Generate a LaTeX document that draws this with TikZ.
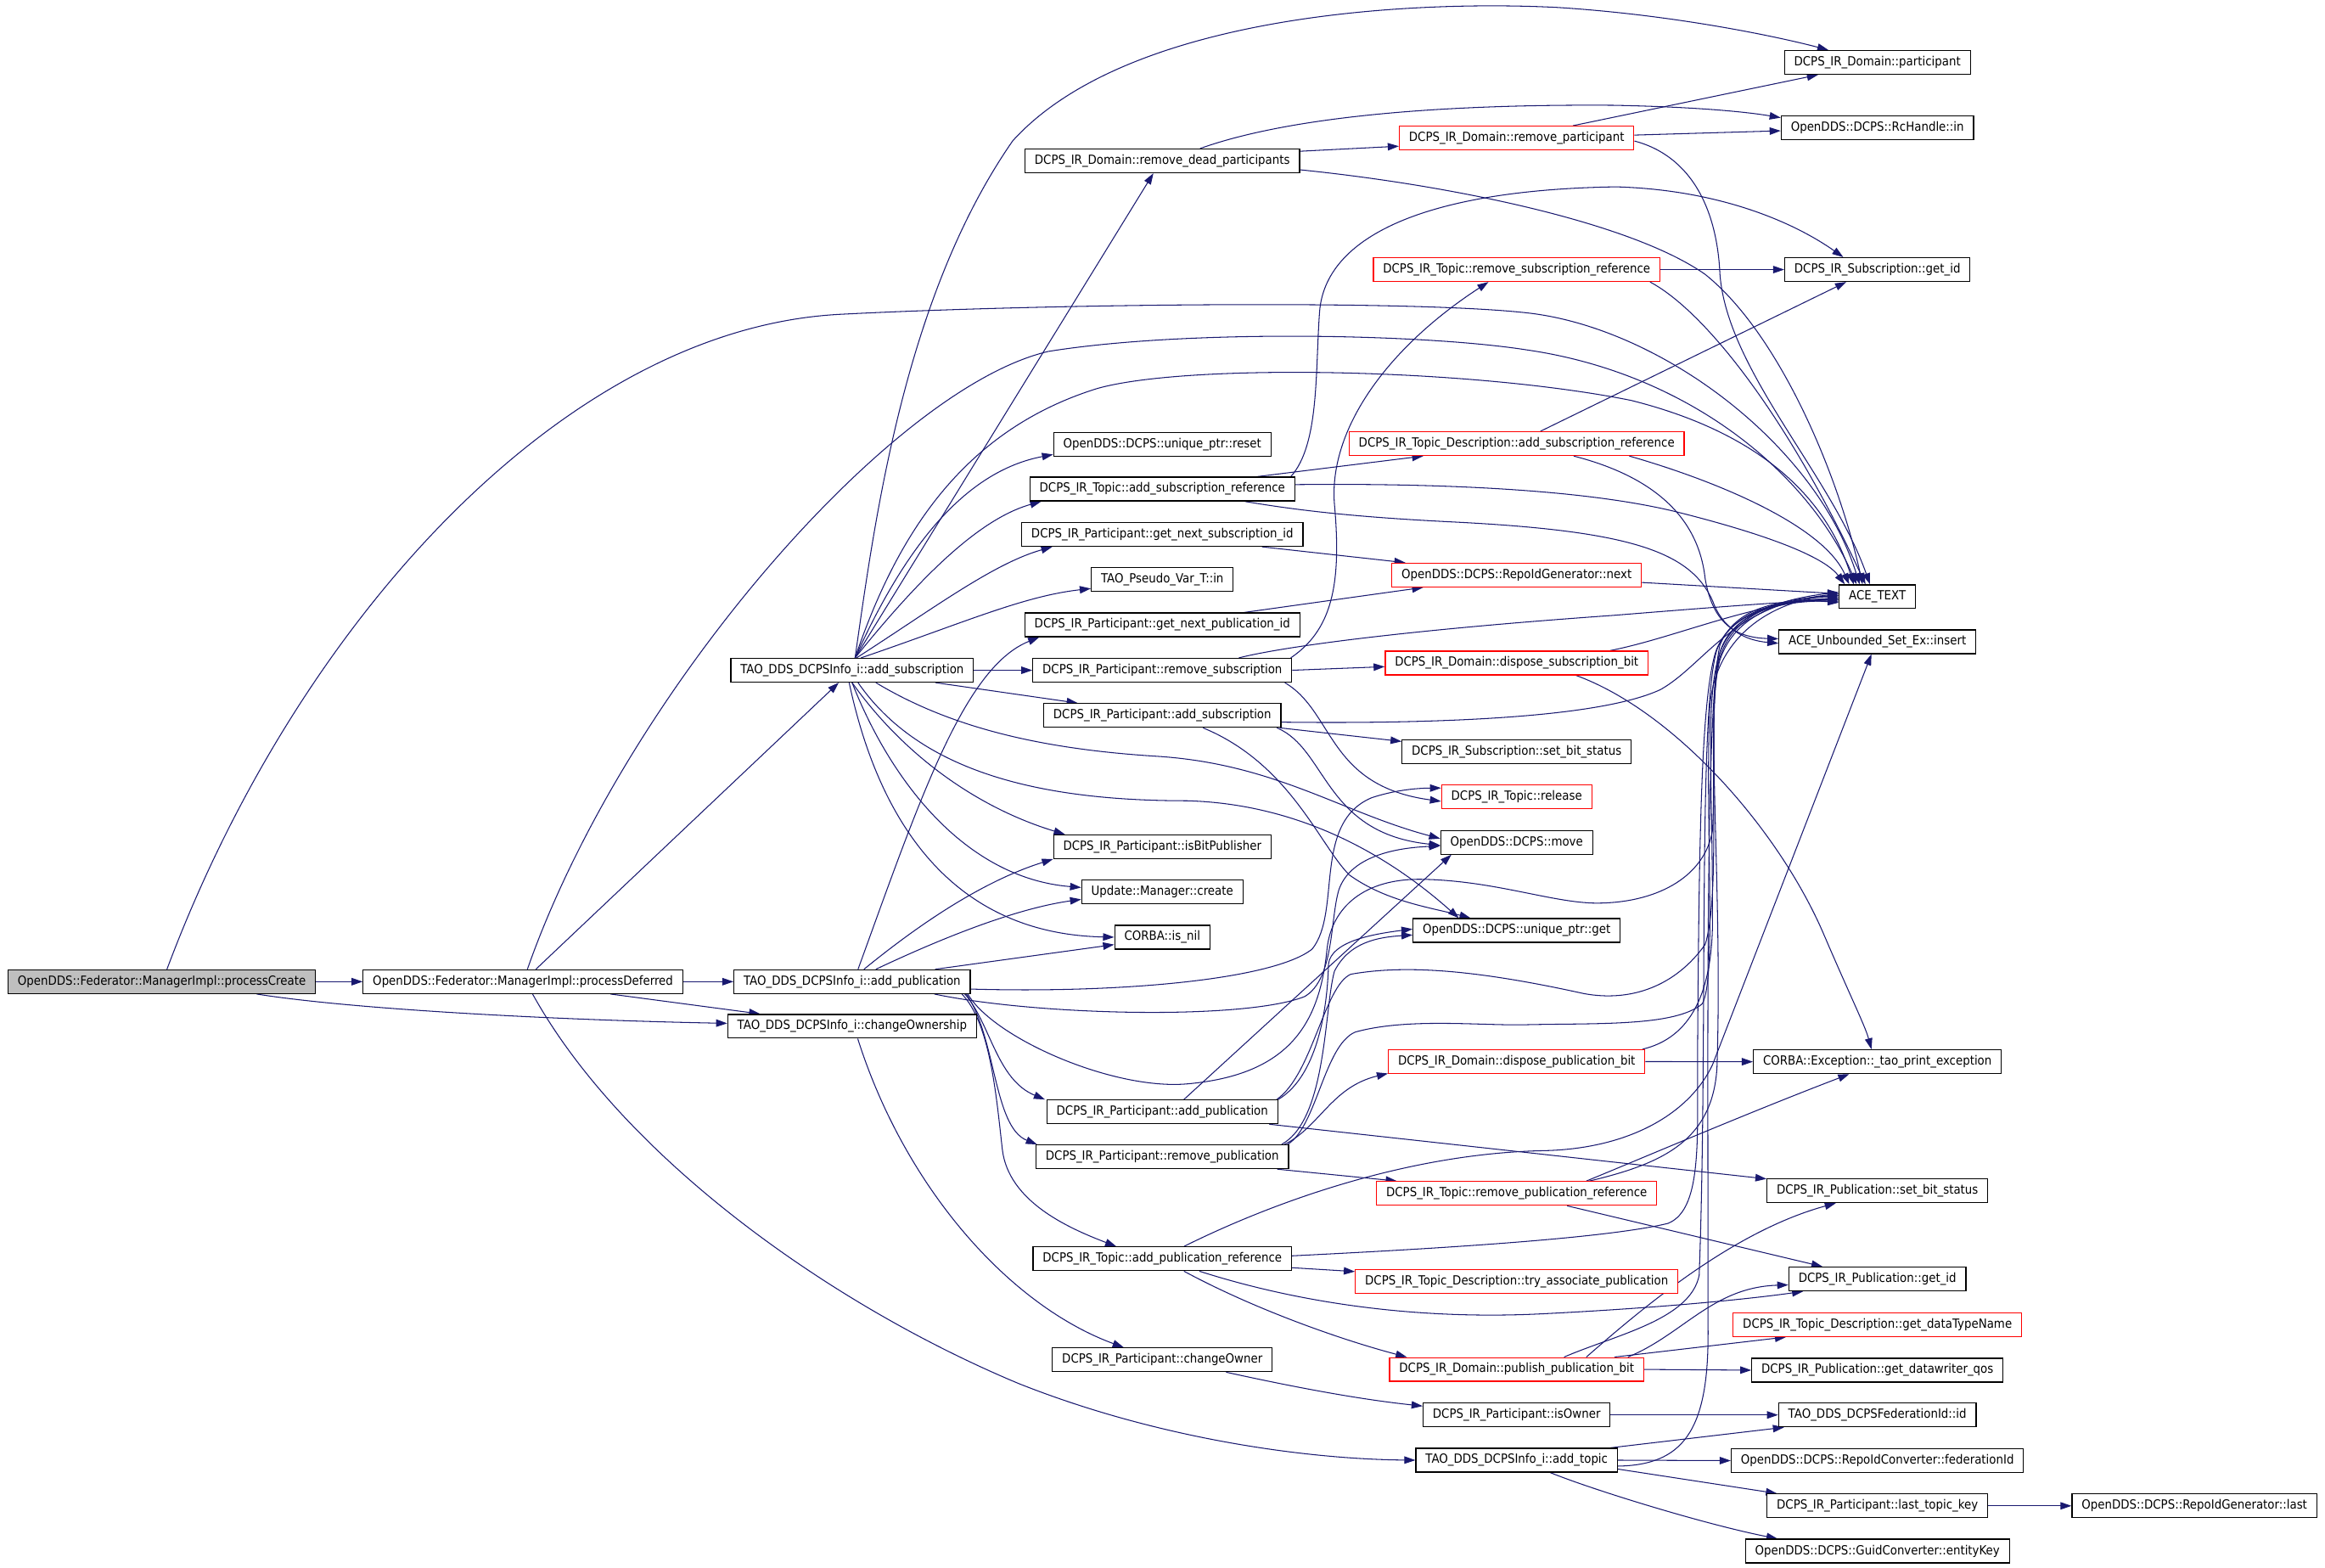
\documentclass[tikz,border=0pt]{standalone}
\usepackage{fontspec}
\setmainfont{DejaVu Sans}[FakeStretch=0.9]
\usetikzlibrary{arrows.meta}
\definecolor{edgeblue}{HTML}{191970}
\definecolor{nodered}{HTML}{FF0000}
\definecolor{pcgray}{HTML}{BFBFBF}
\pgfdeclarelayer{bg}
\pgfsetlayers{bg,main}
\newcommand\nodefont{\fontsize{8.5pt}{10pt}\selectfont}
\tikzset{
 fnbox/.style={draw=black, line width=0.7pt, fill=white, inner xsep=6.5pt, inner ysep=0pt, minimum height=16pt, font=\nodefont},
 fnred/.style={fnbox, draw=nodered},
 fnroot/.style={fnbox, fill=pcgray},
 call/.style={draw=edgeblue, line width=0.6pt, -{Triangle[length=7.5pt,width=5pt]}},
}
\begin{document}
\begin{tikzpicture}[x=1pt,y=-1pt]
\useasboundingbox (0,0) rectangle (1568.1,1057.4);
% column 0-2
\node[fnroot] (pc) at (109.1,662) {OpenDDS::Federator::ManagerImpl::processCreate};
\node[fnbox] (pd) at (352.7,662) {OpenDDS::Federator::ManagerImpl::processDeferred};
\node[fnbox] (ap) at (574.7,662) {TAO\_DDS\_DCPSInfo\_i::add\_publication};
\node[fnbox] (co) at (574.7,692.1) {TAO\_DDS\_DCPSInfo\_i::changeOwnership};
\node[fnbox] (as) at (574.7,452) {TAO\_DDS\_DCPSInfo\_i::add\_subscription};
% column 3
\node[fnbox] (rdp) at (783.9,108.5) {DCPS\_IR\_Domain::remove\_dead\_participants};
\node[fnbox] (reset) at (783.9,299.5) {OpenDDS::DCPS::unique\_ptr::reset};
\node[fnbox] (tasr) at (783.9,329.8) {DCPS\_IR\_Topic::add\_subscription\_reference};
\node[fnbox] (gnsi) at (783.9,360.4) {DCPS\_IR\_Participant::get\_next\_subscription\_id};
\node[fnbox] (tpv) at (783.9,390.9) {TAO\_Pseudo\_Var\_T::in};
\node[fnbox] (gnpi) at (783.9,421.4) {DCPS\_IR\_Participant::get\_next\_publication\_id};
\node[fnbox] (rs) at (783.9,452) {DCPS\_IR\_Participant::remove\_subscription};
\node[fnbox] (pas) at (783.9,482.5) {DCPS\_IR\_Participant::add\_subscription};
\node[fnbox] (ibp) at (783.9,571) {DCPS\_IR\_Participant::isBitPublisher};
\node[fnbox] (cr) at (783.9,601.5) {Update::Manager::create};
\node[fnbox] (nil) at (783.9,632) {CORBA::is\_nil};
\node[fnbox] (pap) at (783.9,749.8) {DCPS\_IR\_Participant::add\_publication};
\node[fnbox] (rpub) at (783.9,780.1) {DCPS\_IR\_Participant::remove\_publication};
\node[fnbox] (tapr) at (783.9,848.9) {DCPS\_IR\_Topic::add\_publication\_reference};
\node[fnbox] (cho) at (783.9,917) {DCPS\_IR\_Participant::changeOwner};
% column 4
\node[fnred] (rp) at (1022.9,93.1) {DCPS\_IR\_Domain::remove\_participant};
\node[fnred] (trsr) at (1022.9,181.8) {DCPS\_IR\_Topic::remove\_subscription\_reference};
\node[fnred] (tdasr) at (1022.9,299.2) {DCPS\_IR\_Topic\_Description::add\_subscription\_reference};
\node[fnred] (rign) at (1022.9,387.8) {OpenDDS::DCPS::RepoIdGenerator::next};
\node[fnred] (dsb) at (1022.9,447.1) {DCPS\_IR\_Domain::dispose\_subscription\_bit};
\node[fnbox] (ssbs) at (1022.9,507) {DCPS\_IR\_Subscription::set\_bit\_status};
\node[fnred] (rel) at (1022.9,537.4) {DCPS\_IR\_Topic::release};
\node[fnbox] (mv) at (1022.9,568) {OpenDDS::DCPS::move};
\node[fnbox] (upg) at (1022.9,627.5) {OpenDDS::DCPS::unique\_ptr::get};
\node[fnred] (dpb) at (1022.9,715.9) {DCPS\_IR\_Domain::dispose\_publication\_bit};
\node[fnred] (trpr) at (1022.9,804.8) {DCPS\_IR\_Topic::remove\_publication\_reference};
\node[fnred] (tdtry) at (1022.9,864) {DCPS\_IR\_Topic\_Description::try\_associate\_publication};
\node[fnred] (ppb) at (1022.9,923.5) {DCPS\_IR\_Domain::publish\_publication\_bit};
\node[fnbox] (io) at (1022.9,954.2) {DCPS\_IR\_Participant::isOwner};
\node[fnbox] (at) at (1022.9,984.7) {TAO\_DDS\_DCPSInfo\_i::add\_topic};
% column 5-6
\node[fnbox] (part) at (1266.2,42.1) {DCPS\_IR\_Domain::participant};
\node[fnbox] (rch) at (1266.2,86.2) {OpenDDS::DCPS::RcHandle::in};
\node[fnbox] (sgid) at (1266.2,181.8) {DCPS\_IR\_Subscription::get\_id};
\node[fnbox] (ace) at (1266.2,402.4) {ACE\_TEXT};
\node[fnbox] (ins) at (1266.2,432.8) {ACE\_Unbounded\_Set\_Ex::insert};
\node[fnbox] (tao) at (1266.2,716) {CORBA::Exception::\_tao\_print\_exception};
\node[fnbox] (psbs) at (1266.2,803) {DCPS\_IR\_Publication::set\_bit\_status};
\node[fnbox] (pgid) at (1266.2,862.5) {DCPS\_IR\_Publication::get\_id};
\node[fnred] (dtn) at (1266.2,893.3) {DCPS\_IR\_Topic\_Description::get\_dataTypeName};
\node[fnbox] (dwq) at (1266.2,924) {DCPS\_IR\_Publication::get\_datawriter\_qos};
\node[fnbox] (fid) at (1266.2,954.2) {TAO\_DDS\_DCPSFederationId::id};
\node[fnbox] (fedc) at (1266.2,985) {OpenDDS::DCPS::RepoIdConverter::federationId};
\node[fnbox] (ltk) at (1266.2,1015.5) {DCPS\_IR\_Participant::last\_topic\_key};
\node[fnbox] (ek) at (1266.2,1046) {OpenDDS::DCPS::GuidConverter::entityKey};
\node[fnbox] (last) at (1480,1015.5) {OpenDDS::DCPS::RepoIdGenerator::last};

\begin{pgfonlayer}{bg}
\fill[white] (0,0) rectangle (1568.1,1057.4);
% processCreate
\draw[call] (pc.east) -- (pd.west);
\draw[call] ([xshift=64pt]pc.south) .. controls (240,681) and (380,688) .. ([yshift=2pt]co.west);
\draw[call] ([xshift=3.5pt]pc.north) .. controls (200,420) and (380,222) .. (566,212) .. controls (700,205) and (950,202) .. (1030,211) .. controls (1120,221) and (1225,300) .. ([xshift=-12pt]ace.north);
% processDeferred
\draw[call] (pd.east) -- (ap.west);
\draw[call] ([xshift=59pt]pd.south) -- ([xshift=-62pt]co.north);
\draw[call] ([xshift=8.7pt]pd.north) -- ([xshift=-9pt]as.south);
\draw[call] ([xshift=3pt]pd.north) .. controls (420,470) and (600,262) .. (707,237) .. controls (800,222) and (960,225) .. (1030,236) .. controls (1140,252) and (1220,320) .. ([xshift=-14pt]ace.north);
\draw[call] ([xshift=6.5pt]pd.south) .. controls (420,780) and (560,880) .. (687,933) .. controls (780,970) and (880,984) .. (at.west);
% changeOwnership / changeOwner / isOwner
\draw[call] ([xshift=3.8pt]co.south) .. controls (610,800) and (680,880) .. ([xshift=-26pt]cho.north);
\draw[call] ([xshift=43pt]cho.south) .. controls (880,937) and (920,944) .. ([yshift=6pt]io.west);
\draw[call] (io.east) -- (fid.west);
% add_topic
\draw[call] ([xshift=-5pt]at.north east) -- ([xshift=4pt]fid.south west);
\draw[call] (at.east) -- (fedc.west);
\draw[call] ([yshift=-6pt]at.east) -- ([xshift=7pt]ltk.north west);
\draw[call] ([xshift=22.6pt]at.south) .. controls (1075,1005) and (1150,1028) .. ([xshift=22pt]ek.north west);
\draw[call] ([yshift=-4pt]at.east) .. controls (1135,988) and (1152,965) .. (1152,900) .. controls (1152,700) and (1150,480) .. (1160,435) .. controls (1170,410) and (1200,403) .. ([yshift=-4pt]ace.west);
\draw[call] (ltk.east) -- (last.west);
% publish_publication_bit
\draw[call] (ppb.east) -- (dwq.west);
\draw[call] ([xshift=-20pt]ppb.north east) -- ([xshift=36pt]dtn.south west);
\draw[call] ([xshift=-11pt]ppb.north east) .. controls (1135,900) and (1155,868) .. ([yshift=-4pt]pgid.west);
\draw[call] ([xshift=47pt]ppb.north) .. controls (1110,880) and (1170,830) .. ([xshift=-28pt]psbs.south);
\draw[call] ([xshift=32pt]ppb.north) .. controls (1090,900) and (1140,890) .. (1146,860) .. controls (1152,700) and (1145,480) .. (1158,438) .. controls (1168,412) and (1200,404) .. ([yshift=-2pt]ace.west);
% add_publication_reference
\draw[call] ([yshift=-6pt]tapr.east) -- ([yshift=6.5pt]tdtry.west);
\draw[call] ([yshift=2pt]tapr.east) .. controls (950,843) and (1080,836) .. (1125,825) .. controls (1150,815) and (1144,760) .. (1145,700) .. controls (1146,550) and (1148,470) .. (1157,440) .. controls (1166,413) and (1200,405) .. ([yshift=-1pt]ace.west);
\draw[call] ([xshift=25pt]tapr.south) .. controls (880,880) and (960,890) .. (1040,886) .. controls (1120,882) and (1180,876) .. ([xshift=10pt]pgid.south west);
\draw[call] ([xshift=14.6pt]tapr.south) .. controls (850,885) and (910,905) .. ([xshift=12pt]ppb.north west);
\draw[call] ([xshift=14.6pt]tapr.north) .. controls (860,810) and (950,778) .. (1040,776) .. controls (1100,775) and (1140,750) .. (1155,718) -- ([xshift=-4pt]ins.south);
% remove_publication_reference
\draw[call] ([xshift=34pt]trpr.south) -- ([xshift=-37pt]pgid.north);
\draw[call] ([xshift=47pt]trpr.north) .. controls (1110,780) and (1180,750) .. ([xshift=-19pt]tao.south);
\draw[call] ([xshift=49pt]trpr.north) .. controls (1120,785) and (1155,770) .. (1158,720) .. controls (1162,600) and (1150,480) .. (1160,440) .. controls (1168,413) and (1200,405) .. ([yshift=-3pt]ace.west);
% dispose_publication_bit
\draw[call] (dpb.east) -- (tao.west);
\draw[call] ([xshift=-2pt]dpb.north east) .. controls (1140,700) and (1155,670) .. (1155,620) .. controls (1155,520) and (1150,470) .. (1160,440) .. controls (1170,413) and (1200,403) .. (ace.west);
% remove_publication
\draw[call] ([xshift=-3pt]rpub.north east) .. controls (890,760) and (898,733) .. ([yshift=-8pt]dpb.west);
\draw[call] ([xshift=-8pt]rpub.south east) -- ([xshift=14pt]trpr.north west);
\draw[call] ([xshift=-5pt]rpub.north east) .. controls (895,755) and (893,680) .. (900,655) .. controls (910,635) and (930,632) .. ([yshift=-3pt]upg.west);
\draw[call] ([xshift=-1pt]rpub.north east) .. controls (888,760) and (893,705) .. (914,696) .. controls (950,686) and (1000,692) .. (1031,691) .. controls (1080,690) and (1130,692) .. (1148,677) .. controls (1158,660) and (1150,560) .. (1153,480) .. controls (1155,430) and (1195,405) .. ([yshift=1pt]ace.west);
% DCPS_IR_Participant::add_publication
\draw[call] ([xshift=14.6pt]pap.north) -- ([xshift=-44pt]mv.south);
\draw[call] (pap.north east) .. controls (885,728) and (895,690) .. (896,650) .. controls (898,635) and (925,630) .. ([yshift=1pt]upg.west);
\draw[call] ([xshift=-1pt]pap.north east) .. controls (885,725) and (893,665) .. (911,657) .. controls (950,650) and (1000,655) .. (1068,670) .. controls (1100,676) and (1130,665) .. (1150,637) .. controls (1162,600) and (1150,480) .. (1160,445) .. controls (1170,415) and (1200,405) .. ([yshift=2pt]ace.west);
\draw[call] ([xshift=-6pt]pap.south east) -- ([yshift=8pt]psbs.west);
% TAO add_publication
\draw[call] ([xshift=4pt]ap.north) .. controls (620,540) and (650,450) .. ([xshift=10pt]gnpi.south west);
\draw[call] ([xshift=8pt]ap.north) .. controls (630,615) and (670,592) .. (ibp.south west);
\draw[call] ([xshift=16pt]ap.north) .. controls (645,628) and (690,612) .. ([yshift=-5pt]cr.west);
\draw[call] ([xshift=56pt]ap.north) -- ([yshift=-5pt]nil.west);
\draw[call] ([yshift=-5pt]ap.east) .. controls (760,670) and (860,660) .. (885,640) .. controls (905,615) and (885,555) .. (925,538) .. controls (940,533) and (955,531.5) .. ([yshift=6pt]rel.west);
\draw[call] ([xshift=-24.6pt]ap.south east) .. controls (700,685) and (840,688) .. (880,672) .. controls (900,660) and (897,620) .. (903,600) .. controls (910,580) and (935,572) .. ([yshift=-2.5pt]mv.west);
\draw[call] ([xshift=-2pt]ap.south east) .. controls (670,700) and (750,735) .. (800,731) .. controls (870,725) and (890,690) .. (895,640) .. controls (898,612) and (920,592) .. (960,593) .. controls (1010,594) and (1050,610) .. (1080,609) .. controls (1120,608) and (1150,590) .. (1155,560) .. controls (1158,500) and (1152,460) .. (1162,438) .. controls (1172,414) and (1200,404) .. ([yshift=3pt]ace.west);
\draw[call] ([xshift=-4pt]ap.south east) .. controls (668,690) and (672,728) .. ([xshift=-1pt]pap.north west);
\draw[call] ([xshift=-3pt]ap.south east) .. controls (672,700) and (670,760) .. ([xshift=1pt]rpub.north west);
\draw[call] ([xshift=-6pt]ap.south east) .. controls (668,690) and (672,740) .. (676,775) .. controls (680,810) and (720,828) .. ([xshift=-31pt]tapr.north);
% TAO add_subscription
\draw[call] ([xshift=2pt]as.north) .. controls (590,350) and (610,200) .. (683,95) .. controls (760,10) and (950,0) .. (1050,5) .. controls (1130,10) and (1200,25) .. ([xshift=-33pt]part.north);
\draw[call] ([xshift=2pt]as.north) -- ([xshift=-6pt]rdp.south);
\draw[call] ([xshift=2pt]as.north) .. controls (605,360) and (650,290) .. (740,262) .. controls (800,245) and (990,248) .. (1100,270) .. controls (1180,290) and (1230,330) .. ([xshift=-16pt]ace.north);
\draw[call] ([xshift=2pt]as.north) .. controls (610,370) and (650,318) .. ([yshift=-7pt]reset.west);
\draw[call] ([xshift=2pt]as.north) .. controls (620,390) and (660,350) .. ([xshift=8pt]tasr.south west);
\draw[call] ([xshift=3pt]as.north) .. controls (630,410) and (670,380) .. ([xshift=21pt]gnsi.south west);
\draw[call] ([xshift=6pt]as.north) .. controls (650,420) and (690,402) .. ([yshift=-6pt]tpv.west);
\draw[call] (as.east) -- (rs.west);
\draw[call] ([xshift=-26pt]as.south east) -- ([xshift=-57pt]pas.north);
\draw[call] ([xshift=16pt]as.south) .. controls (640,490) and (700,505) .. (780,510) .. controls (860,515) and (905,548) .. ([yshift=2.5pt]mv.west);
\draw[call] ([xshift=4pt]as.south) .. controls (620,520) and (700,540) .. (800,540) .. controls (880,542) and (940,580) .. ([xshift=-39pt]upg.north);
\draw[call] (as.south) .. controls (610,510) and (660,545) .. ([xshift=8pt]ibp.north west);
\draw[call] (as.south) .. controls (600,525) and (650,592) .. ([yshift=3pt]cr.west);
\draw[call] ([xshift=-2pt]as.south) .. controls (595,565) and (650,630) .. (nil.west);
% remove_subscription
\draw[call] ([xshift=-1pt]rs.north east) .. controls (898,425) and (905,395) .. (900,340) .. controls (896,290) and (935,235) .. ([xshift=-19pt]trsr.south);
\draw[call] ([xshift=51.6pt]rs.north) .. controls (870,435) and (960,424) .. (1088,415) .. controls (1150,410) and (1200,406) .. ([yshift=-2pt]ace.west);
\draw[call] (rs.east) -- ([yshift=-2.5pt]dsb.west);
\draw[call] ([xshift=-5pt]rs.south east) .. controls (900,480) and (895,530) .. ([yshift=-3pt]rel.west);
% dispose_subscription_bit
\draw[call] ([xshift=-26pt]dsb.north east) .. controls (1130,430) and (1180,407) .. ([yshift=-1pt]ace.west);
\draw[call] ([xshift=40pt]dsb.south) .. controls (1130,480) and (1200,560) .. (1230,630) .. controls (1248,672) and (1258,692) .. ([xshift=-4pt]tao.north);
% RepoIdGenerator::next
\draw[call] ([yshift=-5pt]rign.east) -- ([yshift=2pt]ace.west);
\draw[call] ([xshift=-28pt]gnsi.south east) -- ([xshift=-75pt]rign.north);
\draw[call] ([xshift=55pt]gnpi.north) -- ([xshift=-63pt]rign.south);
% remove_dead_participants
\draw[call] ([yshift=6.5pt]rdp.east) -- ([yshift=-5.5pt]rp.west);
\draw[call] ([xshift=25.5pt]rdp.north) .. controls (860,82) and (950,70) .. (1088,71) .. controls (1140,72) and (1175,75) .. ([yshift=-1.5pt]rch.north west);
\draw[call] ([yshift=-6pt]rdp.east) .. controls (980,125) and (1100,150) .. (1150,185) .. controls (1200,225) and (1240,320) .. ([xshift=-10pt]ace.north);
% remove_participant
\draw[call] ([xshift=38pt]rp.north) -- ([xshift=-40pt]part.south);
\draw[call] ([yshift=2pt]rp.east) -- ([yshift=-2pt]rch.west);
\draw[call] ([yshift=-2pt]rp.east) .. controls (1140,105) and (1158,140) .. (1160,185) .. controls (1165,250) and (1235,320) .. ([xshift=-5pt]ace.north);
% remove_subscription_reference
\draw[call] (trsr.east) -- (sgid.west);
\draw[call] ([xshift=-7pt]trsr.south east) .. controls (1150,210) and (1205,280) .. ([xshift=-8pt]ace.north);
% Topic_Description add_subscription_reference
\draw[call] ([xshift=16pt]tdasr.north) -- ([xshift=-21pt]sgid.south);
\draw[call] ([xshift=76pt]tdasr.south) .. controls (1160,325) and (1230,355) .. ([xshift=-19pt]ace.north);
\draw[call] ([xshift=38.5pt]tdasr.south) .. controls (1110,320) and (1145,345) .. (1150,390) .. controls (1155,420) and (1170,430) .. ([yshift=2pt]ins.west);
% Topic add_subscription_reference
\draw[call] ([xshift=63.7pt]tasr.north) -- ([xshift=-63pt]tdasr.south);
\draw[call] ([xshift=-3pt]tasr.north east) .. controls (890,300) and (887,250) .. (890,210) .. controls (894,160) and (960,128) .. (1090,126) .. controls (1160,128) and (1210,150) .. ([xshift=-23pt]sgid.north);
\draw[call] ([yshift=3pt]tasr.east) .. controls (950,326) and (1060,328) .. (1130,345) .. controls (1190,360) and (1230,375) .. ([xshift=-22pt]ace.north);
\draw[call] ([xshift=55.6pt]tasr.south) .. controls (880,345) and (920,349) .. (980,352) .. controls (1100,358) and (1140,372) .. (1155,405) .. controls (1162,425) and (1178,432) .. ([yshift=-1pt]ins.west);
% Participant add_subscription
\draw[call] ([xshift=-1pt]pas.south east) -- ([yshift=7pt]ssbs.west);
\draw[call] ([yshift=-4.5pt]pas.east) .. controls (950,488) and (1075,486) .. (1120,465) .. controls (1150,448) and (1170,406) .. ([yshift=1pt]ace.west);
\draw[call] ([xshift=-3pt]pas.south east) .. controls (895,505) and (893,562) .. ([yshift=-2pt]mv.west);
\draw[call] ([xshift=27.5pt]pas.south) .. controls (870,515) and (890,570) .. (910,590) .. controls (935,608) and (965,612) .. ([xshift=-31pt]upg.north);
\end{pgfonlayer}
\end{tikzpicture}
\end{document}
